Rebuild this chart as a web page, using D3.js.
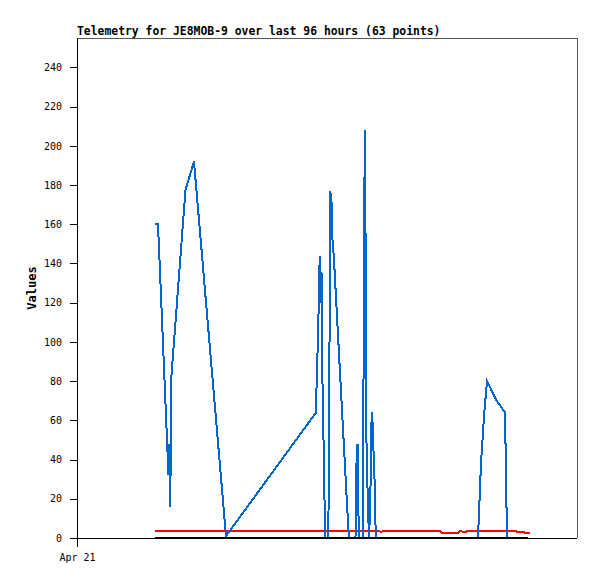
<!DOCTYPE html>
<html>
<head>
<meta charset="utf-8">
<script src="https://cdn.jsdelivr.net/npm/d3@7"></script>
<style>
  html, body { margin: 0; padding: 0; background: #fff; }
  svg { display: block; }
</style>
</head>
<body>
<script>
// ---- Data (x = hours since Apr 21 00:00) ----
const title = "Telemetry for JE8MOB-9 over last 96 hours (63 points)";
const yLabel = "Values";
const xTickValues = [0];
const xTickLabels = ["Apr 21"];
const yTicks = [0, 20, 40, 60, 80, 100, 120, 140, 160, 180, 200, 220, 240];

const blueHours = [15.03, 15.55, 17.57, 17.76, 17.91, 18.11, 20.83, 22.46, 28.61, 45.89,
  46.08, 46.33, 46.46, 46.71, 46.85, 46.98, 47.10, 47.48, 47.62, 48.25,
  48.38, 48.63, 48.88, 49.06, 49.34, 52.03, 52.22, 53.47, 53.63, 53.86,
  54.03, 54.20, 54.87, 55.05, 55.16, 55.30, 55.43, 55.55, 55.68, 55.93,
  56.06, 56.31, 56.45, 56.59, 56.83, 56.97, 57.22, 57.35, 76.99, 77.57,
  78.14, 78.72, 80.58, 82.18, 82.56, 86.59];
const blueValues = [160, 160, 32, 48, 16, 82, 177.5, 192, 1, 64,
  88, 104, 136, 144, 120, 135, 84, 28, 0, 0,
  44, 177, 171, 152, 142, 8, 0, 0, 36, 48,
  13, 0, 0, 104, 173, 208, 136, 54, 35, 11,
  0, 16, 48, 64, 56, 40, 24, 0, 0, 38,
  62, 80, 70, 64, 0, 0];

const redHours = [14.98, 57.98, 58.37, 58.75, 69.70, 70.08, 73.15, 73.54, 73.92, 74.30,
  74.69, 75.07, 84.10, 84.48, 85.63, 86.02, 86.98];
const redValues = [3.6, 3.6, 2.9, 3.6, 3.6, 2.7, 2.7, 3.6, 3.3, 2.9,
  3.2, 3.6, 3.6, 3.2, 3.2, 2.7, 2.7];

const blackHours = [14.98, 86.59];
const blackValues = [0, 0];

// ---- Layout ----
const W = 597, H = 579;
const L = 77, R = 577, T = 38, B = 538;

const svg = d3.select("body").append("svg").attr("width", W).attr("height", H);

const x = d3.scaleLinear().domain([0, 96]).range([L, R]);
const y = d3.scaleLinear().domain([0, 255]).range([B, T]);

const mono = "'DejaVu Sans Mono', 'Liberation Mono', monospace";

// Frame (top & right)
svg.append("path")
  .attr("d", `M${L},${T + 0.5}H${R + 0.5}V${B}`)
  .attr("fill", "none").attr("stroke", "#555").attr("stroke-width", 1)
  .attr("shape-rendering", "crispEdges");

// Y axis
const yAxis = d3.axisLeft(y).tickValues(yTicks).tickSize(7).tickPadding(8).tickFormat(d3.format("d"));
const gy = svg.append("g").attr("transform", `translate(${L},0)`).call(yAxis);
gy.select(".domain").remove();
gy.selectAll("line").attr("stroke", "#000").attr("shape-rendering", "crispEdges");
gy.selectAll("text").attr("font-family", mono).attr("font-size", "10px").attr("fill", "#000");

// X axis
const xAxis = d3.axisBottom(x).tickValues(xTickValues).tickSize(9).tickPadding(7)
  .tickFormat((d, i) => xTickLabels[i]);
const gx = svg.append("g").attr("transform", `translate(0,${B})`).call(xAxis);
gx.select(".domain").remove();
gx.selectAll("line").attr("stroke", "#000").attr("shape-rendering", "crispEdges");
gx.selectAll("text").attr("font-family", mono).attr("font-size", "10px").attr("fill", "#000");

// Axis lines
svg.append("line").attr("x1", L + 0.5).attr("x2", L + 0.5).attr("y1", T).attr("y2", B)
  .attr("stroke", "#000").attr("shape-rendering", "crispEdges");
svg.append("line").attr("x1", L).attr("x2", R).attr("y1", B + 0.5).attr("y2", B + 0.5)
  .attr("stroke", "#000").attr("shape-rendering", "crispEdges");

// Series
const line = d3.line().x(d => x(d[0])).y(d => y(d[1]));
function series(hours, values, color) {
  svg.append("path")
    .datum(hours.map((h, i) => [h, values[i]]))
    .attr("d", line)
    .attr("fill", "none")
    .attr("stroke", color)
    .attr("stroke-width", 2)
    .attr("stroke-linejoin", "miter")
    .attr("shape-rendering", "crispEdges");
}
series(redHours, redValues, "#ff0000");
series(blueHours, blueValues, "#0066cc");
series(blackHours, blackValues, "#000000");

// Title
svg.append("text").attr("x", L).attr("y", 35)
  .attr("font-family", mono).attr("font-size", "11.4px").attr("font-weight", "bold")
  .text(title);

// Y label
svg.append("text")
  .attr("transform", `translate(36,288) rotate(-90)`)
  .attr("text-anchor", "middle")
  .attr("font-family", mono).attr("font-size", "12px").attr("font-weight", "bold")
  .text(yLabel);
</script>
</body>
</html>
